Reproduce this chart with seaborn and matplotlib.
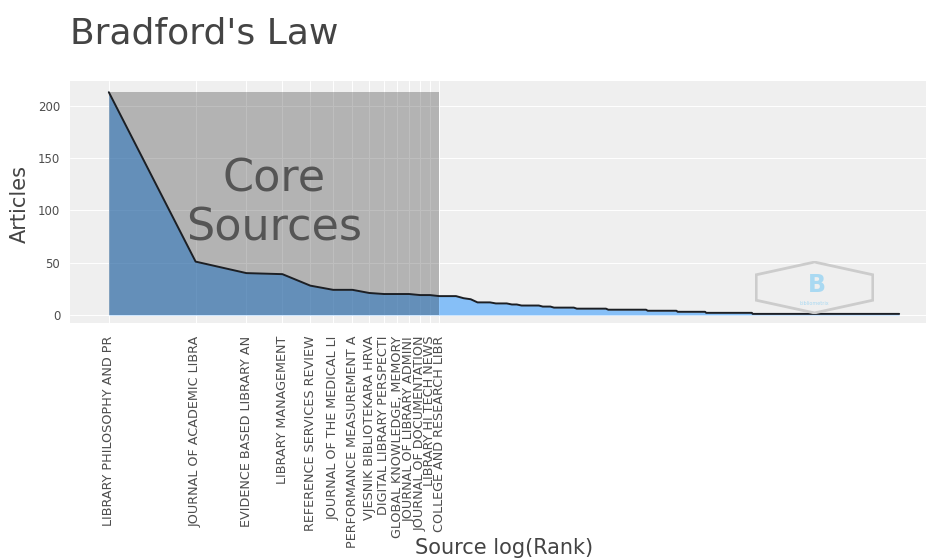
import numpy as np
import pandas as pd
import matplotlib
matplotlib.use("Agg")
import matplotlib.pyplot as plt
import seaborn as sns
from matplotlib.patches import Rectangle, Polygon

# ── Data ─────────────────────────────────────────────────────────────────────
# core sources (Bradford zone 1), names truncated to 25 chars as in the source
core_names = [
    "LIBRARY PHILOSOPHY AND PR",
    "JOURNAL OF ACADEMIC LIBRA",
    "EVIDENCE BASED LIBRARY AN",
    "LIBRARY MANAGEMENT",
    "REFERENCE SERVICES REVIEW",
    "JOURNAL OF THE MEDICAL LI",
    "PERFORMANCE MEASUREMENT A",
    "VJESNIK BIBLIOTEKARA HRVA",
    "DIGITAL LIBRARY PERSPECTI",
    "GLOBAL KNOWLEDGE, MEMORY",
    "JOURNAL OF LIBRARY ADMINI",
    "JOURNAL OF DOCUMENTATION",
    "LIBRARY HI TECH NEWS",
    "COLLEGE AND RESEARCH LIBR",
]

# frequency table: articles per source -> number of sources with that count
article_levels = [213, 51, 40, 39, 28, 24, 21, 20, 19, 18, 16, 15,
                  12, 11, 10, 9, 8, 7, 6, 5, 4, 3, 2, 1]
n_sources = [1, 1, 1, 1, 1, 2, 1, 3, 2, 3, 1, 1,
             3, 3, 2, 5, 3, 7, 12, 20, 20, 24, 53, 381]

y_ticks = [0, 50, 100, 150, 200]

# ── Build ranked table ───────────────────────────────────────────────────────
articles = np.repeat(article_levels, n_sources)
df = pd.DataFrame({"rank": np.arange(1, len(articles) + 1), "articles": articles})
df["log_rank"] = np.log(df["rank"])
n_core = len(core_names)
core_end = df["log_rank"].iloc[n_core - 1]
max_art = df["articles"].max()

# ── Style ────────────────────────────────────────────────────────────────────
sns.set_theme(style="darkgrid")
plt.rcParams["font.family"] = ["DejaVu Sans"]
TXT = "#444444"
TICK = "#4D4D4D"

fig = plt.figure(figsize=(9.26, 5.59), dpi=100)
W, H = 926, 559
# panel in pixel terms: left 70, right ~939 (clipped by figure), top 80.7, bottom 323.3
ax = fig.add_axes([70 / W, (H - 323.3) / H, (939 - 70) / W, (323.3 - 80.7) / H])
ax.set_facecolor("#EFEFEF")

ax.fill_between(df["log_rank"], 0, df["articles"], color="#1E90FF", alpha=0.5, lw=0)
ax.add_patch(Rectangle((0, 0), core_end, max_art, facecolor="black",
                       alpha=0.25, lw=0, zorder=2))
sns.lineplot(data=df, x="log_rank", y="articles", color="#1c1f24",
             lw=1.4, ax=ax, zorder=3)

ax.text(core_end / 2, max_art * 0.50, "Core\nSources", fontsize=32,
        color="#555555", ha="center", va="center", linespacing=1.2, zorder=4)

ax.set_xlim(-0.31, 6.63)
ax.set_ylim(-8, 224)
ax.set_xticks(df["log_rank"].iloc[:n_core], labels=core_names, rotation=90,
              fontsize=9.2, color=TICK)
ax.set_yticks(y_ticks, labels=[str(v) for v in y_ticks], fontsize=8.5, color=TICK)
ax.tick_params(axis="both", length=4, width=0.8, color="#999999", pad=3)
ax.tick_params(axis="x", pad=5)
ax.grid(True, color="white", lw=0.7)
for s in ax.spines.values():
    s.set_visible(False)

ax.set_xlabel("Source log(Rank)", fontsize=15, color=TXT)
ax.xaxis.set_label_coords(0.5, -0.885)
ax.set_ylabel("Articles", fontsize=15, color=TXT)
ax.yaxis.set_label_coords(-0.046, 0.49)

fig.text(70 / W, (H - 43.3) / H, "Bradford's Law", fontsize=26, color=TXT,
         ha="left", va="baseline")

# faint bibliometrix-style watermark
logo = fig.add_axes([755 / W, (H - 314) / H, 119 / W, 53 / H])
logo.set_xlim(0, 1)
logo.set_ylim(0, 1)
logo.axis("off")
logo.add_patch(Polygon([(0.5, 0.98), (0.99, 0.74), (0.99, 0.26), (0.5, 0.02),
                        (0.01, 0.26), (0.01, 0.74)], closed=True, fill=False,
                       edgecolor="#CCCCCC", lw=2))
logo.text(0.52, 0.55, "B", fontsize=17, fontweight="bold", color="#A9D9F2",
          ha="center", va="center")
logo.text(0.5, 0.2, "bibliometrix", fontsize=3.5, color="#A9D9F2",
          ha="center", va="center")

fig.savefig("out.png", dpi=100)
